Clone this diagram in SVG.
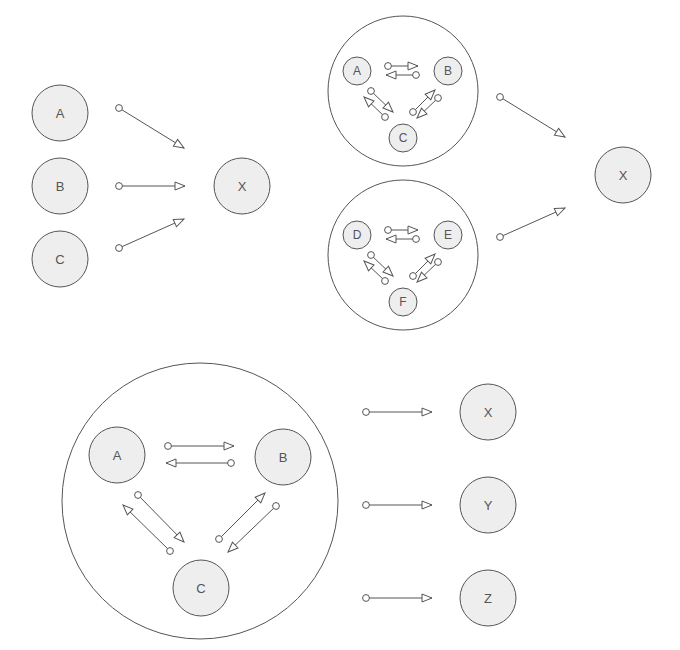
<svg xmlns="http://www.w3.org/2000/svg" width="680" height="650" viewBox="0 0 680 650">
<defs>
<marker id="ah" markerUnits="userSpaceOnUse" markerWidth="14" markerHeight="12" refX="12" refY="6" orient="auto" overflow="visible">
<path d="M2,2 L12,6 L2,10 Z" fill="#fff" stroke="#555" stroke-width="1"/>
</marker>
<marker id="dot" markerUnits="userSpaceOnUse" markerWidth="10" markerHeight="10" refX="5" refY="5" overflow="visible">
<circle cx="5" cy="5" r="3.4" fill="#fff" stroke="#555" stroke-width="1"/>
</marker>
</defs>
<style>
.n{fill:#eeeeee;stroke:#555;stroke-width:1}
.g{fill:#fff;stroke:#555;stroke-width:1}
.t{font-family:"Liberation Sans",Arial,sans-serif;font-size:13px;fill:#555;text-anchor:middle;dominant-baseline:central}
.ts{font-family:"Liberation Sans",Arial,sans-serif;font-size:12px;fill:#555;text-anchor:middle;dominant-baseline:central}
.c{stroke:#555;stroke-width:1;fill:none;marker-start:url(#dot);marker-end:url(#ah)}
</style>
<rect width="680" height="650" fill="#fff"/>

<!-- group containers -->
<g id="group1"><circle class="g" cx="403" cy="91" r="75"/></g>
<g id="group2"><circle class="g" cx="403" cy="255" r="75"/></g>
<g id="group3"><circle class="g" cx="200" cy="501" r="138"/></g>

<!-- top-left nodes -->
<g id="tl-A"><circle class="n" cx="60" cy="113" r="28"/><text class="t" x="60" y="113">A</text></g>
<g id="tl-B"><circle class="n" cx="60" cy="186" r="28"/><text class="t" x="60" y="186">B</text></g>
<g id="tl-C"><circle class="n" cx="60" cy="259" r="28"/><text class="t" x="60" y="259">C</text></g>
<g id="tl-X"><circle class="n" cx="242" cy="186" r="28"/><text class="t" x="242" y="186">X</text></g>

<!-- top-right nodes -->
<g id="tr-A"><circle class="n" cx="357" cy="71" r="14"/><text class="ts" x="357" y="71">A</text></g>
<g id="tr-B"><circle class="n" cx="448" cy="71" r="14"/><text class="ts" x="448" y="71">B</text></g>
<g id="tr-C"><circle class="n" cx="403" cy="138" r="14"/><text class="ts" x="403" y="138">C</text></g>
<g id="tr-D"><circle class="n" cx="357" cy="235" r="14"/><text class="ts" x="357" y="235">D</text></g>
<g id="tr-E"><circle class="n" cx="448" cy="235" r="14"/><text class="ts" x="448" y="235">E</text></g>
<g id="tr-F"><circle class="n" cx="403" cy="302" r="14"/><text class="ts" x="403" y="302">F</text></g>
<g id="tr-X"><circle class="n" cx="623" cy="175" r="28"/><text class="t" x="623" y="175">X</text></g>

<!-- bottom nodes -->
<g id="b-A"><circle class="n" cx="117" cy="455" r="28"/><text class="t" x="117" y="455">A</text></g>
<g id="b-B"><circle class="n" cx="283" cy="457" r="28"/><text class="t" x="283" y="457">B</text></g>
<g id="b-C"><circle class="n" cx="201" cy="588" r="28"/><text class="t" x="201" y="588">C</text></g>
<g id="b-X"><circle class="n" cx="488" cy="412" r="28"/><text class="t" x="488" y="412">X</text></g>
<g id="b-Y"><circle class="n" cx="488" cy="505" r="28"/><text class="t" x="488" y="505">Y</text></g>
<g id="b-Z"><circle class="n" cx="488" cy="598" r="28"/><text class="t" x="488" y="598">Z</text></g>

<g id="connectors">
<!-- top-left -->
<line class="c" x1="119" y1="108" x2="184" y2="148"/>
<line class="c" x1="119" y1="186" x2="185" y2="186"/>
<line class="c" x1="119" y1="248" x2="184" y2="219"/>
<!-- top-right group1 -->
<line class="c" x1="388" y1="66" x2="418" y2="66"/>
<line class="c" x1="416" y1="75" x2="386" y2="75"/>
<line class="c" x1="371" y1="91" x2="393" y2="112"/>
<line class="c" x1="385" y1="117" x2="364" y2="97"/>
<line class="c" x1="413" y1="112" x2="435" y2="90"/>
<line class="c" x1="438" y1="98" x2="417" y2="118"/>
<!-- top-right group2 -->
<line class="c" x1="388" y1="230" x2="418" y2="230"/>
<line class="c" x1="416" y1="239" x2="386" y2="239"/>
<line class="c" x1="371" y1="255" x2="393" y2="276"/>
<line class="c" x1="385" y1="281" x2="364" y2="261"/>
<line class="c" x1="413" y1="276" x2="435" y2="254"/>
<line class="c" x1="438" y1="262" x2="417" y2="282"/>
<!-- top-right to X -->
<line class="c" x1="500" y1="97" x2="565" y2="137"/>
<line class="c" x1="500" y1="237" x2="565" y2="208"/>
<!-- bottom group -->
<line class="c" x1="168" y1="446" x2="234" y2="446"/>
<line class="c" x1="231" y1="463" x2="166" y2="463"/>
<line class="c" x1="138" y1="495" x2="184" y2="542"/>
<line class="c" x1="170" y1="551" x2="123" y2="505"/>
<line class="c" x1="219" y1="539" x2="265" y2="493"/>
<line class="c" x1="276" y1="506" x2="228" y2="552"/>
<!-- bottom right -->
<line class="c" x1="366" y1="412" x2="432" y2="412"/>
<line class="c" x1="366" y1="505" x2="432" y2="505"/>
<line class="c" x1="366" y1="598" x2="432" y2="598"/>
</g>
</svg>
